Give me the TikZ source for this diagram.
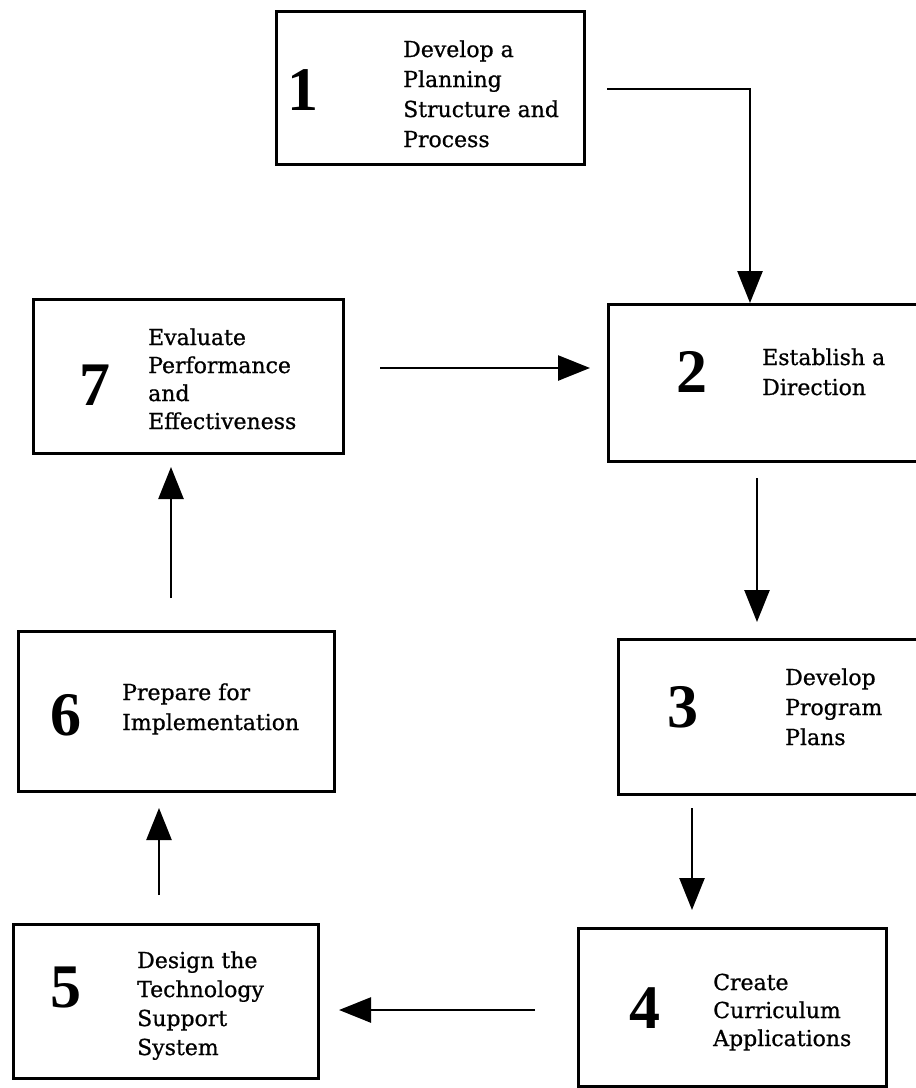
\documentclass[tikz,border=0pt]{standalone}
\usepackage{fontspec}
\setmainfont{DejaVu Serif}[FakeBold=0.8]
\newfontfamily\numfont{Liberation Serif}
\usetikzlibrary{arrows.meta}
\begin{document}
\begin{tikzpicture}[x=1pt,y=-1pt,
  stagebox/.style={draw, line width=3pt, anchor=north west, inner sep=0pt},
  stagenum/.style={font=\numfont\bfseries\fontsize{62}{62}\selectfont, inner sep=0pt},
  stagetext/.style={anchor=base west, align=left, inner sep=0pt},
  flow/.style={line width=2.6pt, -{Triangle[length=32pt,width=25pt]}}]
\useasboundingbox (0,0) rectangle (916,1088);
\clip (0,0) rectangle (916,1088);

% stage boxes
\node[stagebox, minimum width=308pt, minimum height=153pt] (b1) at (275,10) {};
\node[stagebox, minimum width=340pt, minimum height=157pt] (b2) at (607,303) {};
\node[stagebox, minimum width=330pt, minimum height=155pt] (b3) at (617,638) {};
\node[stagebox, minimum width=308pt, minimum height=158pt] (b4) at (577,927) {};
\node[stagebox, minimum width=305pt, minimum height=154pt] (b5) at (12,923) {};
\node[stagebox, minimum width=316pt, minimum height=160pt] (b6) at (17,630) {};
\node[stagebox, minimum width=310pt, minimum height=154pt] (b7) at (32,298) {};

% stage numbers
\node[stagenum] (n1) at (303,90) {1};
\node[stagenum] (n2) at (692,372) {2};
\node[stagenum] (n3) at (683,707) {3};
\node[stagenum] (n4) at (645,1008) {4};
\node[stagenum] (n5) at (66,987) {5};
\node[stagenum] (n6) at (66,715) {6};
\node[stagenum] (n7) at (95,385) {7};

% stage titles (placed at the baseline of their last line)
\node[stagetext, font=\fontsize{22}{30}\selectfont] (t1) at (403,147)
  {Develop a\\Planning\\Structure and\\Process};
\node[stagetext, font=\fontsize{22}{30}\selectfont] (t2) at (762,395)
  {Establish a\\Direction};
\node[stagetext, font=\fontsize{22}{30}\selectfont] (t3) at (785,745)
  {Develop\\Program\\Plans};
\node[stagetext, font=\fontsize{22}{28}\selectfont] (t4) at (713,1046)
  {Create\\Curriculum\\Applications};
\node[stagetext, font=\fontsize{22}{29}\selectfont] (t5) at (137,1055)
  {Design the\\Technology\\Support\\System};
\node[stagetext, font=\fontsize{22}{30}\selectfont] (t6) at (122,730)
  {Prepare for\\Implementation};
\node[stagetext, font=\fontsize{22}{28}\selectfont] (t7) at (148,429)
  {Evaluate\\Performance\\and\\Effectiveness};

% free ends of the connectors
\coordinate (s12) at (607,89);
\coordinate (e12) at (750,303);
\coordinate (s72) at (380,368);
\coordinate (e72) at (590,368);
\coordinate (s23) at (757,478);
\coordinate (e23) at (757,622);
\coordinate (s34) at (692,808);
\coordinate (e34) at (692,910);
\coordinate (s45) at (535,1010);
\coordinate (e45) at (339,1010);
\coordinate (s56) at (159,895);
\coordinate (e56) at (159,808);
\coordinate (s67) at (171,598);
\coordinate (e67) at (171,467);

% connectors
\draw[flow] (s12) -| (e12);
\draw[flow] (s72) -- (e72);
\draw[flow] (s23) -- (e23);
\draw[flow] (s34) -- (e34);
\draw[flow] (s45) -- (e45);
\draw[flow] (s56) -- (e56);
\draw[flow] (s67) -- (e67);
\end{tikzpicture}
\end{document}
